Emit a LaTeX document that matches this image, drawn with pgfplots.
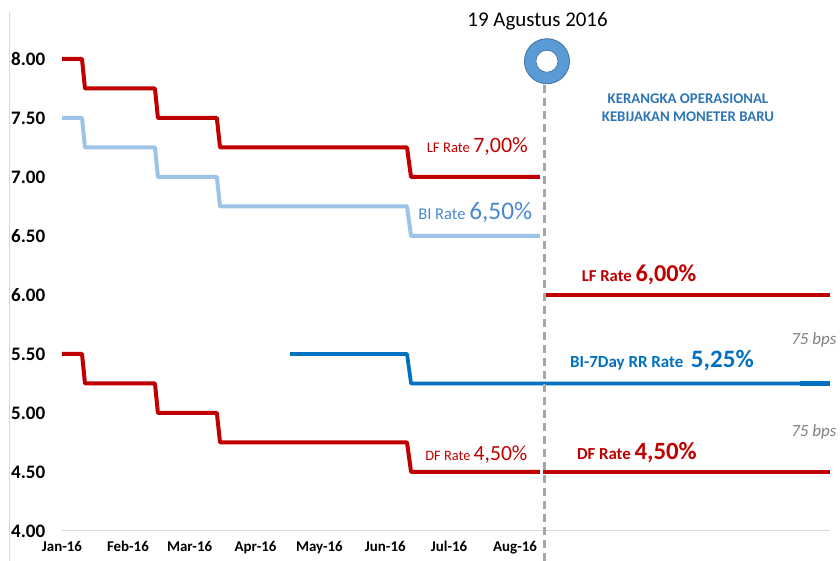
\documentclass[border=0pt]{standalone}
\usepackage{fontspec}
\setmainfont{Carlito}
\usepackage{pgfplots}
\pgfplotsset{compat=1.18}
\definecolor{lfred}{HTML}{C00000}
\definecolor{birate}{HTML}{9DC3E6}
\definecolor{bilabel}{HTML}{4A89CF}
\definecolor{rrblue}{HTML}{0070C0}
\definecolor{ringblue}{HTML}{5B9BD5}
\definecolor{ringedge}{HTML}{41719C}
\definecolor{kbblue}{HTML}{2E75B6}
\definecolor{dashgray}{HTML}{A6A6A6}
\definecolor{bpsgray}{HTML}{7F7F7F}
\definecolor{axgray}{HTML}{D9D9D9}
\begin{document}
\begin{tikzpicture}
\begin{axis}[
  scale only axis,
  x=1.5956pt, y=88.5pt,
  xmin=0, xmax=361, ymin=4, ymax=8,
  clip=false,
  axis x line*=bottom, axis y line*=left,
  x axis line style={draw=axgray, line width=0.75pt, -},
  y axis line style={draw=none},
  major tick length=0pt,
  xtick={0,31,60,91,121,152,182,213},
  xticklabels={Jan-16,Feb-16,Mar-16,Apr-16,May-16,Jun-16,Jul-16,Aug-16},
  ytick={4,4.5,5,5.5,6,6.5,7,7.5,8},
  y tick label style={/pgf/number format/fixed, /pgf/number format/fixed zerofill, /pgf/number format/precision=2, /pgf/number format/assume math mode=true, font=\fontsize{14.3}{16}\selectfont\bfseries, xshift=-9pt},
  x tick label style={font=\fontsize{11.2}{13}\selectfont\bfseries, yshift=-4pt},
  line join=round,
]
% LF rate (before)
\addplot[lfred, line width=3pt] coordinates {(0,8.00)(9.4,8.00)(10.8,7.75)(43.7,7.75)(45.1,7.50)(72.8,7.50)(74.3,7.25)(162.2,7.25)(164.1,7.00)(224.7,7.00)};
% BI rate
\addplot[birate, line width=3pt] coordinates {(0,7.50)(9.4,7.50)(10.8,7.25)(43.7,7.25)(45.1,7.00)(72.8,7.00)(74.3,6.75)(162.2,6.75)(164.1,6.50)(224.7,6.50)};
% DF rate (before)
\addplot[lfred, line width=3pt] coordinates {(0,5.50)(9.4,5.50)(10.8,5.25)(43.7,5.25)(45.1,5.00)(72.8,5.00)(74.3,4.75)(162.2,4.75)(164.1,4.50)(224.7,4.50)};
% DF rate (after)
\addplot[lfred, line width=3pt] coordinates {(226.1,4.50)(361,4.50)};
% LF rate (after)
\addplot[lfred, line width=3pt] coordinates {(226.1,6.00)(361,6.00)};
% BI 7-day RR rate
\addplot[rrblue, line width=2.8pt] coordinates {(107.2,5.50)(162.2,5.50)(164.1,5.25)(361,5.25)};
\addplot[rrblue, line width=3.6pt] coordinates {(347,5.25)(361,5.25)};
% dashed marker line
\addplot[dashgray, line width=1.9pt, dash pattern=on 6pt off 3.75pt] coordinates {(226.9,7.78)(226.9,3.746)};
% ring
\addplot[only marks, mark=*, mark size=16.9pt, mark options={fill=ringblue, draw=ringedge, line width=0.6pt}] coordinates {(228.0,7.981)};
\addplot[only marks, mark=*, mark size=8.25pt, mark options={fill=white, draw=ringedge, line width=0.5pt}] coordinates {(228.0,7.981)};
% left border line
\addplot[axgray, line width=0.75pt] coordinates {(-24.9,8.398)(-24.9,3.746)};

\node[inner sep=0] at (axis cs:223.6,8.318) {\fontsize{15.7}{18}\selectfont 19 Agustus 2016};
\node[inner sep=0, text=kbblue] at (axis cs:294.3,7.661) {\fontsize{11.1}{13}\selectfont\bfseries KERANGKA OPERASIONAL};
\node[inner sep=0, text=kbblue] at (axis cs:294.3,7.508) {\fontsize{11.1}{13}\selectfont\bfseries KEBIJAKAN MONETER BARU};

\node[anchor=west, inner sep=0, text=lfred] at (axis cs:171.4,7.259) {\fontsize{11}{12}\selectfont LF Rate \fontsize{16.5}{18}\selectfont 7,00\%};
\node[anchor=west, inner sep=0, text=bilabel] at (axis cs:167.4,6.695) {\fontsize{12.4}{13}\selectfont BI Rate \fontsize{19}{20}\selectfont 6,50\%};
\node[anchor=west, inner sep=0, text=lfred] at (axis cs:170.7,4.644) {\fontsize{10.8}{12}\selectfont DF Rate \fontsize{16.2}{18}\selectfont 4,50\%};

\node[anchor=west, inner sep=0, text=lfred] at (axis cs:244.3,6.169) {\bfseries\fontsize{12.5}{14}\selectfont LF Rate \fontsize{18.2}{20}\selectfont 6,00\%};
\node[anchor=west, inner sep=0, text=rrblue] at (axis cs:238.8,5.441) {\bfseries\fontsize{12.7}{14}\selectfont BI-7Day RR Rate\ \ \fontsize{18.8}{20}\selectfont 5,25\%};
\node[anchor=west, inner sep=0, text=lfred] at (axis cs:242.0,4.665) {\bfseries\fontsize{12.6}{14}\selectfont DF Rate \fontsize{18.6}{20}\selectfont 4,50\%};

\node[anchor=east, inner sep=0, text=bpsgray] at (axis cs:364.2,5.619) {\itshape\fontsize{12.75}{15}\selectfont 75 bps};
\node[anchor=east, inner sep=0, text=bpsgray] at (axis cs:364.2,4.839) {\itshape\fontsize{12.75}{15}\selectfont 75 bps};

\coordinate (bbl) at (axis cs:-29.15,3.7458);
\coordinate (btr) at (axis cs:365.78,8.5);
\end{axis}
\pgfresetboundingbox
\useasboundingbox (bbl) rectangle (btr);
\end{tikzpicture}
\end{document}
